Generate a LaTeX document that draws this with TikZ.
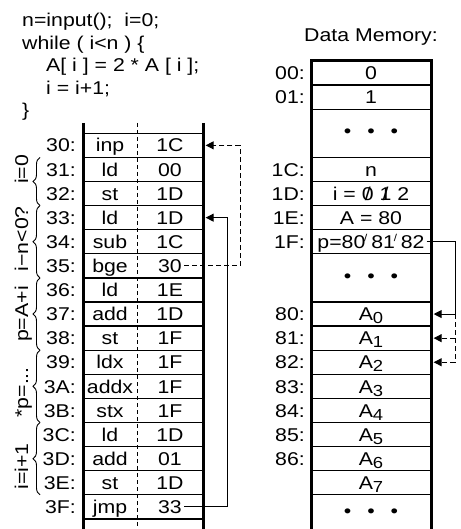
\documentclass[tikz,border=0pt]{standalone}
\usepackage{fontspec}
\setmainfont{Liberation Sans}[FakeStretch=1.15]
\usetikzlibrary{arrows.meta, positioning, decorations.pathreplacing}

\newcommand{\strk}[1]{\ooalign{#1\cr\hidewidth/\hidewidth\cr}}
\newcommand{\tick}[1]{\ooalign{#1\cr\hfil\raisebox{7pt}{\fontsize{10}{10}\selectfont/}\kern-2pt\cr}}
\newcommand{\lowidx}[1]{\raisebox{-3pt}{\fontsize{16}{16}\selectfont#1}}
\newcommand{\dotrow}{\textbullet\hspace{16pt}\textbullet\hspace{16pt}\textbullet}

\begin{document}
\begin{tikzpicture}[
    x=1pt, y=-1pt,
    >={Triangle[length=8pt,width=8pt]},
    font=\fontsize{18.5}{22.5}\selectfont,
    cell/.style={rectangle, draw, line width=1.3pt, minimum width=120pt, minimum height=24.1pt, inner sep=0pt},
    txt/.style={text height=13.3pt, text depth=0pt, inner sep=2pt},
    addr/.style={txt, anchor=east},
    wall/.style={line width=3pt},
    divider/.style={line width=1pt, dash pattern=on 4pt off 3pt},
    link/.style={->, line width=1pt, shorten >=2pt},
    dlink/.style={link, dash pattern=on 5pt off 3pt},
    grp/.style={decorate, decoration={brace, amplitude=7pt}, line width=0.9pt}
]
\useasboundingbox (0,0) rectangle (460,529);

% source program
\node[anchor=north west, align=left, inner sep=0pt] (src) at (22,13) {n=input();\ \ i=0;\\
while ( i<n ) \{\\
\hspace*{24pt}A[ i ] = 2 * A [ i ];\\
\hspace*{24pt}i = i+1;\\
\}};

% program memory
\foreach \a/\op/\arg [count=\k from 3] in {30/inp/1C, 31/ld/00, 32/st/1D, 33/ld/1D, 34/sub/1C, 35/bge/30, 36/ld/1E, 37/add/1D, 38/st/1F, 39/ldx/1F, 3A/addx/1F, 3B/stx/1F, 3C/ld/1D, 3D/add/01, 3E/st/1D, 3F/jmp/33} {
    \node[cell] (p\a) at (143, {61+(\k+0.5)*24.1}) {};
    \node[txt] (o\a) at (110, {61+(\k+0.5)*24.1}) {\op};
    \node[txt] (a\a) at (170, {61+(\k+0.5)*24.1}) {\arg};
    \node[addr] (l\a) at (78, {61+(\k+0.5)*24.1}) {\a:};
}
\draw[divider] (137,123) -- (137,529);
\draw[wall] (83,123) -- (83,529);
\draw[wall] (203,123) -- (203,529);

% groups of instructions
\foreach \t/\b/\s/\txt in {4/6/-12/{i=0}, 6/9/-3/{i−n<0?}, 9/12/0/{p=A+i}, 12/15/6/{*p=...}, 15/18/8/{i=i+1}} {
    \draw[grp] (40, {61+\b*24.1}) -- (40, {61+\t*24.1})
        node[midway, xshift=-12pt, yshift=-\s pt, rotate=90, anchor=base, inner sep=0pt] {\txt};
}

% data memory
\node (title) at (371,37) {Data Memory:};
\foreach \k/\a/\v in {0/00/0, 1/01/1, 4/1C/n, 5/1D/{i = \strk{0} \strk{1} 2}, 6/1E/{A = 80}, 7/1F/{p=8\tick{0} 8\tick{1} 82}} {
    \node[cell] (d\a) at (371, {61+(\k+0.5)*24.1}) {};
    \node[txt] (v\a) at (371, {61+(\k+0.5)*24.1}) {\v};
    \node[addr] (m\a) at (307, {61+(\k+0.5)*24.1}) {\a:};
}
\foreach \i [count=\k from 10] in {0,...,6} {
    \node[cell] (d8\i) at (371, {61+(\k+0.5)*24.1}) {};
    \node[txt] (v8\i) at (371, {61+(\k+0.5)*24.1}) {A\lowidx{\i}};
    \node[addr] (m8\i) at (307, {61+(\k+0.5)*24.1}) {8\i:};
}
\node[cell] (dA7) at (371, {61+17.5*24.1}) {};
\node[txt] (vA7) at (371, {61+17.5*24.1}) {A\lowidx{7}};
\node[cell, minimum height=48.2pt] (dots1) at (371, {61+3*24.1}) {\dotrow};
\node[cell, minimum height=48.2pt] (dots2) at (371, {61+9*24.1}) {\dotrow};
\node (dots3) at (371,513) {\dotrow};
\draw[wall] (311,529) -- (311,61) -- (431,61) -- (431,529);

% jumps and pointer
\coordinate (bgex) at (240,0);
\coordinate (jmpx) at (227,0);
\coordinate (ptrx) at (455,0);
\draw[dlink] (a35.east) -- (a35.east -| bgex) |- (p30.east);
\draw[link] (a3F.east) -- (a3F.east -| jmpx) |- (p33.east);
\draw[link] (v1F.east) -- (v1F.east -| ptrx) |- (d80.east);
\draw[dlink] (d80.east -| ptrx) |- (d81.east);
\draw[dlink] (d80.east -| ptrx) |- (d82.east);
\end{tikzpicture}
\end{document}
